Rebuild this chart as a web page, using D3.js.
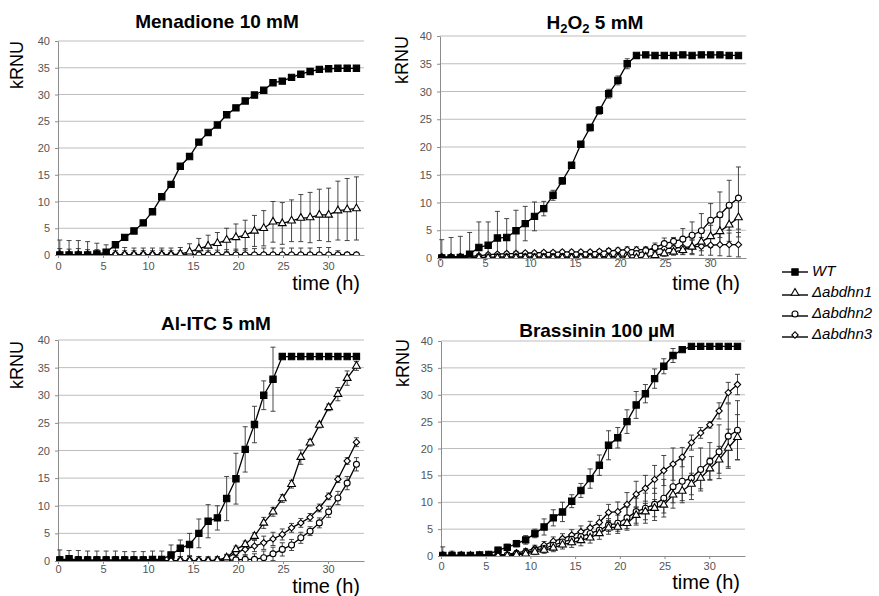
<!DOCTYPE html>
<html><head><meta charset="utf-8">
<script src="https://cdn.jsdelivr.net/npm/d3@7"></script>
<style>
html,body{margin:0;padding:0;background:#fff;}
svg{display:block;font-family:"Liberation Sans",Arial,sans-serif;}
</style></head>
<body><svg id="chart" width="879" height="596"></svg>
<script>
// ---------------- DATA ----------------
const time = [0.2,1.23,2.26,3.29,4.32,5.35,6.38,7.41,8.44,9.47,10.5,11.53,12.56,13.59,14.62,15.65,16.68,17.71,18.74,19.77,20.8,21.83,22.86,23.89,24.92,25.95,26.98,28.01,29.04,30.07,31.1,32.13,33.16];
const seriesNames = ["WT","Δabdhn1","Δabdhn2","Δabdhn3"];
const xTicks = [0,5,10,15,20,25,30];
const yTicks = [0,5,10,15,20,25,30,35,40];
const titles = ["Menadione 10 mM","H2O2 5 mM","Al-ITC 5 mM","Brassinin 100 µM"];

// Menadione 10 mM
const menWT   = [0,0,0,0,0.2,0.5,1.9,3.3,4.5,6.0,8.1,10.9,13.2,16.6,18.4,21.1,22.9,24.3,26.2,27.5,28.8,29.9,30.8,32.2,32.5,33.2,33.8,34.3,34.7,34.8,34.9,34.9,34.9];
const menWTe  = [0.3,0.3,0.3,0.3,0.3,0.3,0.3,0.3,0.3,0.3,0.3,0.3,0.3,0.3,0.3,0.3,0.3,0.3,0.3,0.3,0.3,0.3,0.3,0.3,0.3,0.3,0.3,0.3,0.3,0.3,0.3,0.3,0.3];
const menD1   = [0,0,0,0,0,0,0,0,0,0,0,0,0,0.2,0.6,1.2,1.7,2.2,2.8,3.3,3.7,4.5,5.0,6.2,5.9,6.4,6.9,7.0,7.5,7.5,8.3,8.5,8.7];
const menD1e  = [2.8,2.7,2.7,2.5,2.2,1.9,1.5,1.4,1.3,1.3,1.3,1.3,1.3,1.2,1.5,1.9,2.0,2.0,2.2,2.5,2.8,2.9,3.3,3.8,3.9,3.9,4.4,4.7,4.8,5.0,5.5,5.8,5.9];
const menD2   = [0,0,0,0,0,0,0,0,0,0,0,0,0,0,0,0,0,0,0,0,0,0,0,0,0,0,0,0,0,0,0,0,0];
const menD2e  = [1.2,1.1,1.2,1.0,1.0,0.9,0.8,0.8,0.8,0.8,0.8,0.9,0.8,0.8,0.8,0.7,0.8,0.9,1.0,1.1,1.2,1.2,1.3,1.3,1.3,1.3,1.3,1.3,1.4,1.4,0.8,0.5,0.5];
const menD3   = [0,0,0,0,0,0,0,0,0,0,0,0,0,0,0,0,0,0,0,0,0,0,0,0,0,0,0,0,0,0,0,0,0];
const menD3e  = [0.4,0.4,0.4,0.4,0.4,0.4,0.4,0.4,0.4,0.4,0.4,0.4,0.4,0.4,0.4,0.4,0.4,0.4,0.4,0.4,0.4,0.4,0.4,0.4,0.4,0.4,0.4,0.4,0.4,0.4,0.4,0.4,0.4];

// H2O2 5 mM
const h2WT   = [0,0,0.1,0.7,1.9,2.3,3.6,3.7,4.9,6.2,7.5,8.9,11.3,13.9,16.7,20.5,23.5,26.6,29.6,32.0,35.0,36.5,36.6,36.5,36.5,36.5,36.6,36.5,36.6,36.6,36.6,36.5,36.5];
const h2WTe  = [3.3,3.7,3.8,3.9,4.6,4.2,4.8,3.4,3.7,3.1,2.6,1.3,0.9,0.6,0.5,0.5,0.6,0.7,0.8,0.8,0.9,0.3,0.2,0.2,0.2,0.2,0.2,0.2,0.2,0.2,0.2,0.2,0.2];
const h2D1   = [0,0,0,0,0,0,0,0,0,0,0,0,0,0,0,0,0,0,0,0,0,0,0.2,0.5,0.8,1.1,1.4,2.0,2.9,3.9,4.8,6.0,7.3];
const h2D1e  = [0.2,0.2,0.2,0.2,0.2,0.2,0.2,0.2,0.2,0.2,0.2,0.2,0.2,0.2,0.2,0.2,0.2,0.2,0.2,0.2,0.2,0.2,0.3,0.4,0.5,0.6,0.8,1.2,1.6,2.0,2.5,3.0,3.5];
const h2D2   = [0.1,0.1,0.1,0.1,0.1,0.1,0.2,0.2,0.2,0.2,0.2,0.2,0.2,0.2,0.2,0.2,0.2,0.2,0.3,0.3,0.4,0.8,1.3,1.9,2.6,3.0,3.4,4.1,4.9,6.8,7.8,9.5,10.8];
const h2D2e  = [0.3,0.3,0.3,0.3,0.3,0.3,0.3,0.3,0.3,0.3,0.3,0.3,0.3,0.3,0.3,0.3,0.3,0.3,0.3,0.4,0.4,0.5,0.6,0.8,1.0,0.7,1.9,2.4,3.1,3.0,4.1,4.5,5.6];
const h2D3   = [0.2,0.2,0.3,0.3,0.4,0.6,0.7,0.8,0.8,0.9,0.9,1.0,1.0,1.1,1.1,1.1,1.1,1.2,1.3,1.4,1.5,1.5,1.5,1.6,1.7,1.8,1.9,2.0,2.1,2.3,2.4,2.4,2.4];
const h2D3e  = [0.3,0.3,0.3,0.3,0.3,0.3,0.3,0.3,0.3,0.3,0.3,0.3,0.3,0.3,0.3,0.3,0.3,0.3,0.4,0.4,0.5,0.5,0.5,0.6,0.8,1.0,1.2,1.4,1.6,1.8,2.0,2.1,2.2];

// Al-ITC 5 mM
const alWT   = [0.2,0.4,0.2,0.2,0.2,0.2,0.2,0.2,0.2,0.2,0.3,0.3,1.1,2.3,3.0,5.0,7.2,7.8,11.3,14.9,20.2,24.7,30.0,32.9,37.0,37.0,37.0,37.0,37.0,37.0,37.0,37.0,37.0];
const alWTe  = [1.8,1.5,1.7,1.6,1.6,1.6,1.6,1.5,1.5,1.5,1.5,1.5,1.8,1.5,2.0,2.6,3.0,2.2,4.0,4.6,4.1,3.3,2.6,5.8,0.3,0.2,0.2,0.2,0.2,0.2,0.2,0.2,0.2];
const alD1   = [0,0,0,0,0,0,0,0,0,0,0,0,0,0,0,0,0,0.1,0.6,2.1,3.0,4.5,6.9,8.9,11.3,13.9,18.8,21.4,24.6,27.8,30.2,33.1,35.3];
const alD1e  = [0.8,0.8,0.8,0.8,0.8,0.8,0.8,0.8,0.8,0.8,0.8,0.8,0.8,0.8,0.8,0.8,0.6,0.6,0.6,0.6,0.6,0.6,1.0,0.8,0.7,0.7,1.3,0.6,0.5,0.6,1.2,1.3,0.8];
const alD2   = [0,0,0,0,0,0,0,0,0,0,0,0,0,0,0,0,0,0,0.1,0.2,0.3,0.3,0.6,1.3,2.1,2.9,4.2,5.4,6.9,8.9,11.4,14.1,17.5];
const alD2e  = [0.8,0.8,0.8,0.8,0.8,0.8,0.8,0.8,0.8,0.8,0.8,0.8,0.8,0.8,0.8,0.8,0.8,0.8,0.8,0.8,0.8,1.0,1.2,1.2,1.2,1.0,1.0,0.8,0.9,1.0,1.2,1.2,1.2];
const alD3   = [0,0,0,0,0,0,0,0,0,0,0,0,0,0,0,0,0,0.2,0.5,1.5,2.1,2.7,3.3,4.0,4.8,6.0,6.9,7.9,9.6,11.7,14.8,18.1,21.5];
const alD3e  = [0.5,0.5,0.5,0.5,0.5,0.5,0.5,0.5,0.5,0.5,0.5,0.5,0.5,0.5,0.5,0.5,0.5,0.5,0.6,0.8,1.0,1.0,1.2,1.2,1.0,0.8,0.8,0.7,0.7,0.6,0.6,0.6,0.8];

// Brassinin 100 µM
const brWT   = [0.1,0.1,0.1,0.1,0.2,0.3,1.1,1.6,2.3,3.0,4.2,5.4,7.1,8.2,10.2,12.2,14.4,16.9,20.6,22.0,25.0,28.1,30.2,33.0,35.3,37.3,38.4,39.0,39.0,39.0,39.0,39.0,39.0];
const brWTe  = [1.6,0.8,0.6,0.3,0.3,0.3,0.5,0.6,0.6,0.8,0.8,1.5,1.5,1.8,1.2,1.3,1.8,1.9,2.7,1.9,2.2,2.5,1.7,1.8,1.4,1.3,0.4,0.2,0.2,0.2,0.2,0.2,0.2];
const brD1   = [0,0,0,0,0,0,0,0,0.2,0.4,0.75,1.1,1.5,2.1,2.5,2.9,3.4,4.2,5.25,5.4,6.1,7.6,8.25,8.9,9.5,11.4,12.1,13.4,14.5,16.25,17.9,20.1,22.1];
const brD1e  = [0.3,0.3,0.3,0.3,0.3,0.3,0.3,0.3,0.3,0.4,0.5,0.6,0.7,0.8,0.9,1.0,1.0,1.1,1.2,1.2,1.3,1.5,1.5,1.6,1.5,1.5,1.8,2.0,2.0,2.0,2.5,3.5,4.2];
const brD2   = [0.1,0.1,0.1,0.1,0.1,0.1,0.1,0.2,0.4,0.6,1.1,1.4,2.0,2.6,3.1,3.6,4.2,4.8,5.75,6.1,7.1,8.25,8.9,9.6,10.75,12.9,13.9,14.5,16.1,17.6,19.4,22.3,23.4];
const brD2e  = [0.3,0.3,0.3,0.3,0.3,0.3,0.3,0.3,0.4,0.5,0.6,0.7,0.8,0.9,1.0,1.0,1.0,1.0,1.2,1.5,2.0,2.5,2.8,3.0,3.5,4.0,4.0,4.0,4.0,3.5,5.0,6.0,5.5];
const brD3   = [0.1,0.1,0.1,0.1,0.1,0.1,0.2,0.3,0.6,0.9,1.4,2.0,2.75,3.25,3.9,4.5,5.25,6.25,8.1,8.25,9.6,11.5,12.6,14.25,15.9,17.1,18.4,21.1,22.9,24.4,27.0,30.4,31.9];
const brD3e  = [0.3,0.3,0.3,0.3,0.3,0.3,0.3,0.3,0.4,0.5,0.6,0.7,0.8,0.9,1.0,1.1,1.2,1.3,1.5,1.8,2.2,2.4,2.4,2.6,2.8,3.0,1.8,1.4,1.0,0.6,1.5,1.9,1.9];

// ---------------- LAYOUT ----------------
const layouts = [
  {x0:58,  x1:364, yTop:41,  yBot:255, titleX:217, titleY:28,  ylabX:17,  ylabY:65,  timeX:360, timeY:290, xLabY:270},
  {x0:440, x1:746, yTop:36,  yBot:258, titleX:595, titleY:29,  ylabX:402, ylabY:60,  timeX:740, timeY:290, xLabY:267},
  {x0:58,  x1:364, yTop:340, yBot:561, titleX:216, titleY:330, ylabX:17,  ylabY:365, timeX:360, timeY:593, xLabY:573},
  {x0:441, x1:745, yTop:341, yBot:556, titleX:597, titleY:337, ylabX:403, ylabY:363, timeX:740, timeY:589, xLabY:570}
];

const panelData = [
  [[menWT,menWTe],[menD1,menD1e],[menD2,menD2e],[menD3,menD3e]],
  [[h2WT,h2WTe],[h2D1,h2D1e],[h2D2,h2D2e],[h2D3,h2D3e]],
  [[alWT,alWTe],[alD1,alD1e],[alD2,alD2e],[alD3,alD3e]],
  [[brWT,brWTe],[brD1,brD1e],[brD2,brD2e],[brD3,brD3e]]
];

// marker styles (WT square, D1 triangle, D2 circle, D3 diamond)
const markers = [
  {type:d3.symbolSquare,   size:40, fill:"#000", rot:0},
  {type:d3.symbolTriangle, size:26, fill:"#fff", rot:0},
  {type:d3.symbolCircle,   size:28, fill:"#fff", rot:0},
  {type:d3.symbolSquare,   size:20, fill:"#fff", rot:45}
];
const drawOrder = [3,2,1,0];

const svg = d3.select("#chart");
const defs = svg.append("defs");

layouts.forEach((L, p) => {
  const x = d3.scaleLinear().domain([0,34]).range([L.x0, L.x1]);
  const y = d3.scaleLinear().domain([0,40]).range([L.yBot, L.yTop]);
  const g = svg.append("g");

  defs.append("clipPath").attr("id","clip"+p).append("rect")
    .attr("x", L.x0-6).attr("y", L.yTop-2).attr("width", L.x1-L.x0+12).attr("height", L.yBot-L.yTop+2);

  g.selectAll("line.grid").data(yTicks.filter(v=>v>0)).enter().append("line")
    .attr("x1", L.x0).attr("x2", L.x1).attr("y1", d=>y(d)).attr("y2", d=>y(d))
    .attr("stroke","#bdbdbd").attr("stroke-width",1);

  const yAxis = d3.axisLeft(y).tickValues(yTicks).tickSize(3).tickPadding(5).tickSizeOuter(0);
  const ya = g.append("g").attr("transform",`translate(${L.x0},0)`).call(yAxis);
  ya.select(".domain").attr("stroke","#8c8c8c");
  ya.selectAll(".tick line").attr("stroke","#8c8c8c");
  ya.selectAll("text").attr("fill","#555").attr("font-size",11)
    .attr("font-family","'Liberation Sans',Arial,sans-serif");

  const xAxis = d3.axisBottom(x).tickValues(xTicks).tickSize(3).tickPadding(3).tickSizeOuter(0);
  const xa = g.append("g").attr("transform",`translate(0,${L.yBot})`).call(xAxis);
  xa.select(".domain").attr("stroke","#8c8c8c");
  xa.selectAll(".tick line").attr("stroke","#8c8c8c");
  xa.selectAll("text").attr("fill","#555").attr("font-size",11)
    .attr("font-family","'Liberation Sans',Arial,sans-serif")
    .attr("y", L.xLabY - L.yBot).attr("dy", null);

  const plot = g.append("g").attr("clip-path",`url(#clip${p})`);
  const line = d3.line().x((d,i)=>x(time[i])).y(d=>y(d));

  drawOrder.forEach(s => {
    const [vals, errs] = panelData[p][s];
    const pts = vals.map((v,i)=>({t:time[i], v, e:errs[i]}));
    const eb = plot.append("g").attr("stroke","#333").attr("stroke-width",0.9);
    pts.forEach(d => {
      const cx = x(d.t);
      const yh = y(d.v + d.e), yl = y(d.v - d.e);
      eb.append("line").attr("x1",cx).attr("x2",cx).attr("y1",yh).attr("y2",yl);
      eb.append("line").attr("x1",cx-2.5).attr("x2",cx+2.5).attr("y1",yh).attr("y2",yh);
      eb.append("line").attr("x1",cx-2.5).attr("x2",cx+2.5).attr("y1",yl).attr("y2",yl);
    });
  });
  drawOrder.forEach(s => {
    const [vals] = panelData[p][s];
    plot.append("path").datum(vals).attr("d", line)
      .attr("fill","none").attr("stroke","#000").attr("stroke-width",1.3);
  });
  drawOrder.forEach(s => {
    const [vals] = panelData[p][s];
    const m = markers[s];
    const sym = d3.symbol().type(m.type).size(m.size);
    plot.selectAll(null).data(vals).enter().append("path")
      .attr("d", sym)
      .attr("transform",(d,i)=>`translate(${x(time[i])},${y(d)}) rotate(${m.rot})`)
      .attr("fill", m.fill).attr("stroke","#000").attr("stroke-width",1.1);
  });

  const tt = svg.append("text").attr("x",L.titleX).attr("y",L.titleY)
    .attr("text-anchor","middle").attr("font-weight","bold").attr("font-size",19).attr("fill","#000");
  if (titles[p] === "H2O2 5 mM") {
    tt.append("tspan").text("H");
    tt.append("tspan").text("2").attr("font-size",13).attr("dy",4);
    tt.append("tspan").text("O").attr("dy",-4);
    tt.append("tspan").text("2").attr("font-size",13).attr("dy",4);
    tt.append("tspan").text(" 5 mM").attr("dy",-4);
  } else {
    tt.text(titles[p]);
  }

  svg.append("text").attr("transform",`translate(${L.ylabX},${L.ylabY}) rotate(-90)`)
    .attr("text-anchor","middle").attr("dominant-baseline","central")
    .attr("font-size",18).attr("fill","#000").text("kRNU");

  svg.append("text").attr("x",L.timeX).attr("y",L.timeY).attr("text-anchor","end")
    .attr("font-size",20).attr("fill","#000").text("time (h)");
});

// legend
const legY = [272, 295, 316, 337];
const legTextY = [276, 297, 318, 339];
seriesNames.forEach((name, s) => {
  const lg = svg.append("g");
  lg.append("line").attr("x1",782).attr("x2",808).attr("y1",legY[s]).attr("y2",legY[s])
    .attr("stroke","#000").attr("stroke-width",1.4);
  const m = markers[s];
  lg.append("path").attr("d", d3.symbol().type(m.type).size(m.size)())
    .attr("transform",`translate(795,${legY[s] - (s===0?0:2)}) rotate(${m.rot})`)
    .attr("fill",m.fill).attr("stroke","#000").attr("stroke-width",1.1);
  lg.append("text").attr("x",812).attr("y",legTextY[s]).attr("font-size",15)
    .attr("font-style","italic").attr("fill","#000").text(name);
});
</script>
</body></html>
